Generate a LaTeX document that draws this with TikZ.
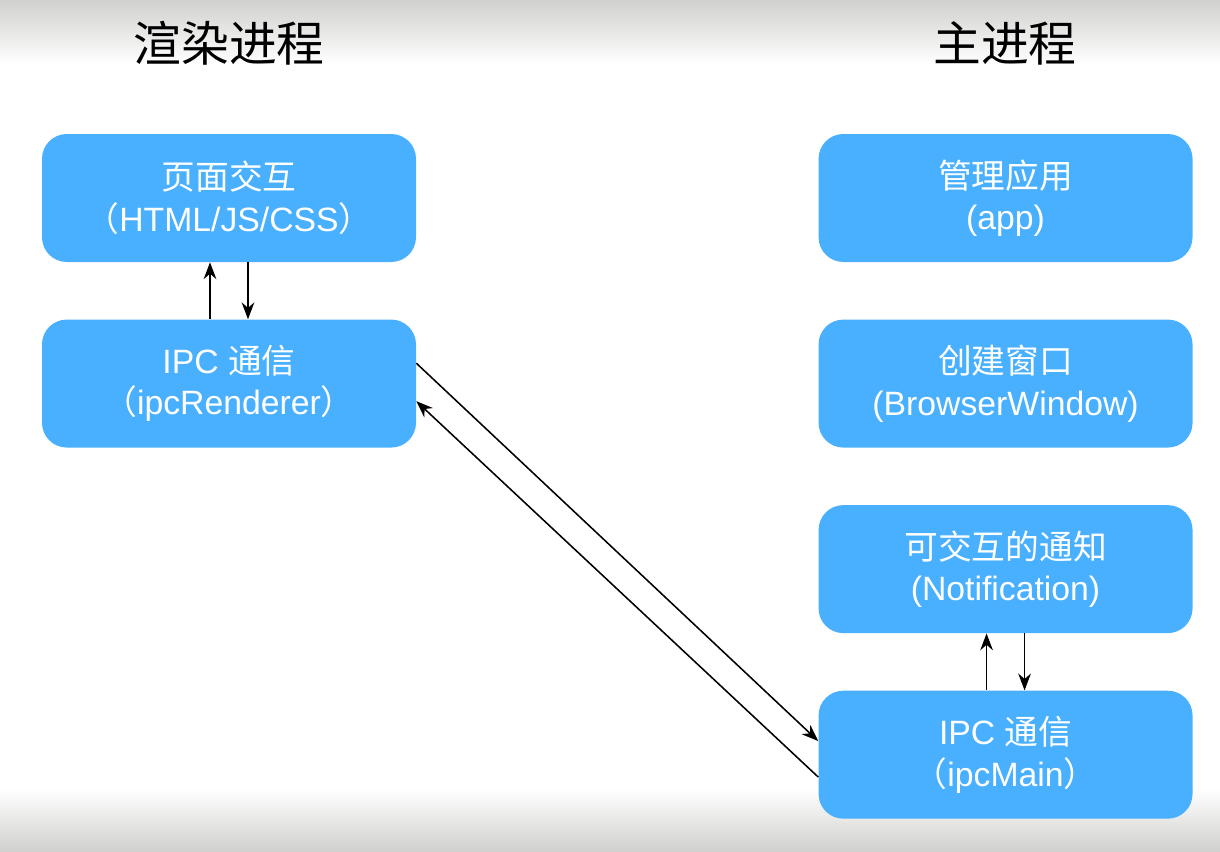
\documentclass[tikz,border=0pt]{standalone}
\usepackage{fontspec}
\setmainfont{Liberation Sans}
\newfontfamily\cjk{Noto Sans CJK SC}
\usetikzlibrary{arrows.meta,positioning}

\definecolor{boxblue}{RGB}{73,176,255}
\definecolor{edgegray}{RGB}{208,208,206}

\tikzset{
	proc/.style={fill=boxblue, rounded corners=0.62cm, minimum width=9.35cm, minimum height=3.2cm,
		text=white, align=center, font=\fontsize{24}{29.5}\selectfont},
	title/.style={font=\cjk\fontsize{34}{40}\selectfont, text=black},
	msg/.style={-{Stealth[length=12pt,width=9pt]}, line width=1.1pt}
}

\begin{document}
\begin{tikzpicture}[node distance=1.425cm and 10.05cm]
		\useasboundingbox (0,0) rectangle (30.5,-21.3);
		% page background, grey at top and bottom
		\shade[top color=edgegray, bottom color=white] (0,0) rectangle (30.5,-1.6);
		\shade[top color=white, bottom color=edgegray] (0,-19.7) rectangle (30.5,-21.3);

		\node[title] (rtitle) at (5.725,-1.075) {渲染进程};
		\node[title] (mtitle) at (25.125,-1.075) {主进程};

		% renderer process
		\node[proc] (page) at (5.725,-4.95) {{\cjk 页面交互}\\{\cjk （}HTML/JS/CSS{\cjk ）}};
		\node[proc] [below=of page] (ipcr) {IPC {\cjk 通信}\\{\cjk （}ipcRenderer{\cjk ）}};

		% main process
		\node[proc] [right=of page] (app) {{\cjk 管理应用}\\(app)};
		\node[proc] [below=of app] (win) {{\cjk 创建窗口}\\(BrowserWindow)};
		\node[proc] [below=of win] (notify) {{\cjk 可交互的通知}\\(Notification)};
		\node[proc] [below=of notify] (ipcm) {IPC {\cjk 通信}\\{\cjk （}ipcMain{\cjk ）}};

		\draw[msg] ([xshift=-0.475cm]ipcr.north) -- ([xshift=-0.475cm]page.south);
		\draw[msg] ([xshift=0.475cm]page.south) -- ([xshift=0.475cm]ipcr.north);
		\draw[msg] ([xshift=-0.475cm]ipcm.north) -- ([xshift=-0.475cm]notify.south);
		\draw[msg] ([xshift=0.475cm]notify.south) -- ([xshift=0.475cm]ipcm.north);
		\draw[msg] ([yshift=0.51cm]ipcr.east) -- ([yshift=0.34cm]ipcm.west);
		\draw[msg] ([yshift=-0.56cm]ipcm.west) -- ([yshift=-0.44cm]ipcr.east);
	\end{tikzpicture}
\end{document}
